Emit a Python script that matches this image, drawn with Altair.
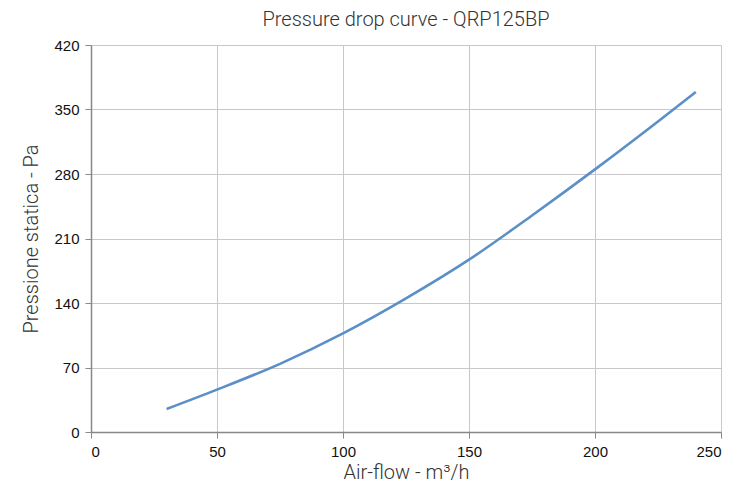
import altair as alt
import pandas as pd

airflow = [30, 50, 75, 100, 125, 150, 175, 200, 225, 240]
pressure = [25, 46, 74, 107, 145, 187, 235, 285, 337, 369]

df = pd.DataFrame({"airflow": airflow, "pressure": pressure})

x_ticks = [0, 50, 100, 150, 200, 250]
y_ticks = [0, 70, 140, 210, 280, 350, 420]

chart = alt.Chart(df).mark_line(
    color="#5a8fc8", strokeWidth=2.6, interpolate="monotone"
).encode(
    x=alt.X("airflow:Q", scale=alt.Scale(domain=[0, 250], nice=False),
            axis=alt.Axis(values=x_ticks, title="Air-flow - m³/h")),
    y=alt.Y("pressure:Q", scale=alt.Scale(domain=[0, 420], nice=False),
            axis=alt.Axis(values=y_ticks, title="Pressione statica - Pa")),
).properties(
    width=630, height=387,
    title=alt.TitleParams("Pressure drop curve - QRP125BP", fontSize=20,
                          font="Roboto", fontWeight=300, color="#333333", offset=8),
    padding={"left": 13, "top": 2, "right": 20, "bottom": 0},
).configure_view(stroke=None).configure_axis(
    domainColor="#888888", domainWidth=1.5, tickColor="#888888", tickSize=6,
    gridColor="#c8c8c8", gridWidth=1,
    labelFont="Liberation Sans", labelFontSize=15, labelColor="#111111",
    titleFont="Roboto", titleFontWeight=300, titleFontSize=20, titleColor="#333333",
).configure_axisX(labelPadding=6, titlePadding=3).configure_axisY(
    labelPadding=6, titlePadding=12)

chart.save("out.html", embed_options={"renderer": "svg", "actions": False})
